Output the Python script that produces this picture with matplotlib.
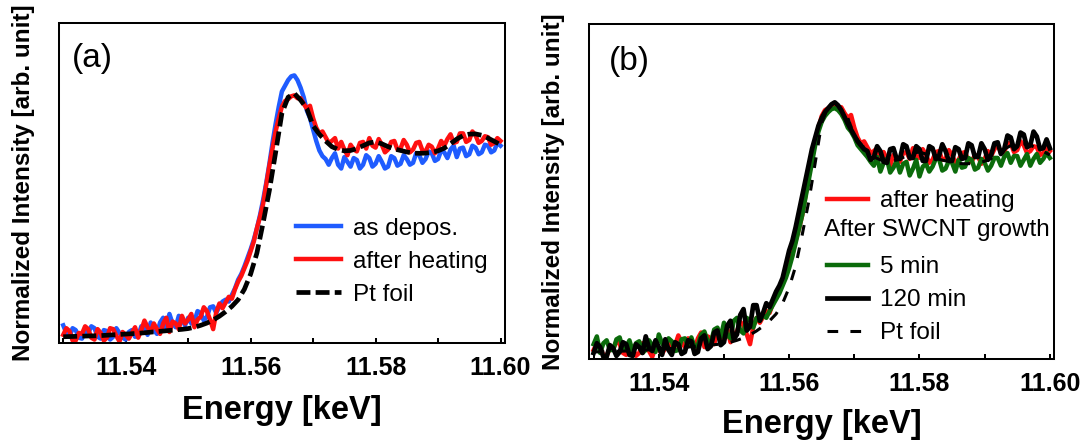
import numpy as np
import matplotlib.pyplot as plt
from matplotlib.ticker import FormatStrFormatter

plt.rcParams['font.family'] = ['Liberation Sans', 'DejaVu Sans']

# energy grids [keV]: 0.5 eV steps for the measured spectra, 1 eV for the Pt foil
energy_fine = np.round(11.530 + 0.0005 * np.arange(141), 4)
energy_ref = np.round(11.530 + 0.001 * np.arange(71), 3)

as_depos = [
    0.060, 0.020, 0.000, 0.045, 0.035, -0.005, -0.010, 0.030, 0.020, 0.055,
    0.045, 0.000, -0.010, 0.035, 0.030, -0.015, 0.000, 0.045, 0.020, -0.005,
    -0.015, 0.025, 0.035, 0.000, 0.005, 0.055, 0.050, 0.010, 0.075, 0.035,
    0.015, 0.075, 0.100, 0.045, 0.120, 0.070, 0.050, 0.110, 0.090, 0.060,
    0.100, 0.070, 0.080, 0.135, 0.125, 0.085, 0.105, 0.155, 0.160, 0.125,
    0.160, 0.185, 0.195, 0.185, 0.220, 0.255, 0.300, 0.330, 0.370, 0.415,
    0.460, 0.510, 0.570, 0.640, 0.720, 0.810, 0.910, 1.020, 1.120, 1.210,
    1.290, 1.320, 1.350, 1.370, 1.375, 1.350, 1.310, 1.260, 1.190, 1.150,
    1.090, 1.030, 0.980, 0.950, 0.935, 0.905, 0.940, 0.965, 0.905, 0.885,
    0.945, 0.920, 0.895, 0.940, 0.930, 0.885, 0.905, 0.955, 0.940, 0.895,
    0.910, 0.950, 0.920, 0.885, 0.895, 0.950, 0.940, 0.900, 0.910, 0.955,
    0.935, 0.905, 0.915, 0.965, 0.955, 0.915, 0.935, 0.975, 0.965, 0.925,
    0.935, 0.980, 0.970, 0.940, 0.985, 1.005, 0.945, 0.990, 0.995, 0.950,
    0.960, 1.005, 0.995, 0.960, 0.970, 1.010, 1.005, 0.970, 0.980, 1.020,
    1.005,
]

after_heating = [
    0.010, 0.045, 0.030, -0.020, -0.020, 0.020, 0.015, 0.055, 0.040, -0.005,
    -0.015, 0.040, 0.020, -0.020, -0.005, 0.045, 0.040, 0.005, -0.025, 0.025,
    0.010, -0.010, 0.020, 0.050, -0.005, 0.035, 0.085, 0.050, 0.025, 0.070,
    0.040, 0.015, 0.070, 0.100, 0.025, 0.080, 0.070, 0.040, 0.110, 0.070,
    0.090, 0.120, 0.050, 0.090, 0.105, 0.155, 0.135, 0.090, 0.040, 0.130,
    0.175, 0.150, 0.180, 0.210, 0.200, 0.250, 0.290, 0.320, 0.360, 0.400,
    0.450, 0.500, 0.570, 0.630, 0.700, 0.800, 0.900, 0.990, 1.080, 1.150,
    1.210, 1.240, 1.250, 1.265, 1.270, 1.255, 1.255, 1.225, 1.200, 1.215,
    1.150, 1.100, 1.070, 1.080, 1.050, 1.020, 1.030, 1.045, 0.990, 1.025,
    0.985, 0.955, 1.010, 0.985, 0.975, 1.020, 1.025, 0.990, 1.045, 1.005,
    0.995, 1.040, 1.010, 0.970, 0.985, 1.025, 1.030, 0.985, 0.990, 1.035,
    1.010, 0.970, 0.985, 1.020, 1.025, 0.980, 0.975, 1.010, 1.000, 0.965,
    0.990, 1.030, 1.005, 1.040, 1.065, 1.020, 1.025, 1.070, 1.070, 1.025,
    1.035, 1.080, 1.060, 1.020, 1.030, 1.055, 1.050, 1.010, 1.020, 1.045,
    1.030,
]

pt_foil = [
    0.000, 0.001, 0.002, 0.003, 0.004, 0.005, 0.006, 0.008, 0.010, 0.012,
    0.014, 0.016, 0.018, 0.021, 0.024, 0.027, 0.030, 0.033, 0.036, 0.039,
    0.043, 0.050, 0.060, 0.072, 0.088, 0.108, 0.132, 0.160, 0.195, 0.250,
    0.330, 0.440, 0.600, 0.770, 0.970, 1.175, 1.260, 1.280, 1.245, 1.200,
    1.110, 1.065, 1.030, 1.000, 0.985, 0.978, 0.980, 0.990, 1.005, 1.020,
    1.025, 1.015, 1.000, 0.988, 0.980, 0.972, 0.966, 0.965, 0.966, 0.970,
    0.978, 0.992, 1.015, 1.040, 1.058, 1.066, 1.067, 1.060, 1.045, 1.028,
    1.010,
]

growth_5min = [
    0.040, 0.080, -0.005, 0.045, 0.060, 0.010, 0.010, 0.065, 0.075, 0.015,
    0.025, 0.060, 0.000, 0.045, 0.055, -0.005, 0.010, 0.060, 0.035, 0.000,
    0.090, 0.045, 0.020, 0.070, 0.055, 0.005, 0.010, 0.065, 0.070, 0.030,
    0.075, 0.025, 0.035, 0.090, 0.105, 0.055, 0.050, 0.115, 0.125, 0.075,
    0.150, 0.085, 0.070, 0.160, 0.175, 0.110, 0.095, 0.175, 0.160, 0.125,
    0.175, 0.160, 0.190, 0.175, 0.210, 0.240, 0.270, 0.300, 0.340, 0.380,
    0.430, 0.490, 0.560, 0.630, 0.700, 0.790, 0.880, 0.970, 1.060, 1.130,
    1.180, 1.210, 1.230, 1.245, 1.250, 1.240, 1.220, 1.190, 1.150, 1.130,
    1.100, 1.060, 1.040, 1.020, 1.000, 0.975, 0.955, 1.000, 0.925, 0.970,
    0.990, 0.920, 0.945, 0.980, 0.920, 0.965, 0.975, 0.905, 0.940, 0.985,
    0.900, 0.950, 0.965, 0.925, 0.950, 0.990, 0.990, 0.930, 0.940, 0.980,
    0.970, 0.925, 0.985, 0.945, 0.950, 0.995, 0.985, 0.935, 0.945, 0.990,
    0.970, 0.930, 0.955, 0.995, 0.995, 0.955, 1.000, 1.020, 0.970, 1.005,
    1.005, 0.955, 0.985, 1.015, 0.955, 0.990, 1.015, 0.970, 0.990, 1.020,
    0.995,
]

growth_120min = [
    -0.005, 0.045, 0.025, -0.025, -0.025, 0.035, 0.020, -0.020, 0.000, 0.050,
    0.040, -0.015, -0.020, 0.040, 0.025, -0.005, 0.080, 0.020, 0.005, 0.060,
    0.025, -0.015, 0.065, 0.010, -0.015, 0.050, 0.040, -0.010, 0.000, 0.060,
    0.055, -0.010, 0.000, 0.070, 0.085, 0.015, 0.030, 0.100, 0.110, 0.035,
    0.050, 0.135, 0.160, 0.065, 0.090, 0.190, 0.220, 0.110, 0.130, 0.240,
    0.240, 0.160, 0.200, 0.250, 0.230, 0.270, 0.310, 0.340, 0.380, 0.450,
    0.520, 0.570, 0.640, 0.720, 0.800, 0.880, 0.960, 1.040, 1.100, 1.160,
    1.200, 1.230, 1.250, 1.270, 1.280, 1.265, 1.240, 1.205, 1.170, 1.140,
    1.110, 1.080, 1.060, 1.040, 1.030, 0.985, 1.000, 1.055, 1.030, 0.975,
    0.970, 1.040, 1.045, 0.990, 0.990, 1.065, 1.055, 0.995, 0.995, 1.055,
    1.040, 0.980, 0.980, 1.055, 1.045, 0.990, 1.005, 1.065, 1.030, 0.980,
    0.980, 1.050, 1.040, 0.990, 0.995, 1.070, 1.060, 1.000, 1.000, 1.070,
    1.040, 0.985, 1.010, 1.070, 1.075, 1.015, 1.040, 1.110, 1.100, 1.040,
    1.055, 1.125, 1.115, 1.050, 1.060, 1.130, 1.105, 1.040, 1.045, 1.090,
    1.045,
]

tick_major = [11.54, 11.56, 11.58, 11.60]
tick_minor = [11.53, 11.55, 11.57, 11.59]

fig = plt.figure(figsize=(10.86, 4.43), dpi=100)
ax_a = fig.add_axes([0.0542, 0.2257, 0.4107, 0.7217])
ax_b = fig.add_axes([0.5424, 0.1896, 0.4285, 0.7555])


def style(ax, ylim, xpad):
    ax.set_xlim(11.5293, 11.6007)
    ax.set_ylim(*ylim)
    ax.set_xticks(tick_major)
    ax.set_xticks(tick_minor, minor=True)
    ax.xaxis.set_major_formatter(FormatStrFormatter('%.2f'))
    ax.set_yticks([])
    ax.tick_params(axis='x', which='both', direction='in', length=3.6, width=1.45)
    ax.tick_params(axis='x', which='major', labelsize=18, pad=9.0)
    for lbl in ax.get_xticklabels():
        lbl.set_fontweight('bold')
    for s in ax.spines.values():
        s.set_linewidth(1.45)
    ax.set_xlabel('Energy [keV]', fontsize=23.5, fontweight='bold', labelpad=xpad)
    ax.set_ylabel('Normalized Intensity [arb. unit]', fontsize=17.5,
                  fontweight='bold', labelpad=17.5)


# (a)
ax_a.plot(energy_fine, as_depos, color='#1f5cff', lw=3.2, label='as depos.')
ax_a.plot(energy_fine, after_heating, color='#ff1010', lw=3.2, label='after heating')
ax_a.plot(energy_ref, pt_foil, color='black', lw=3.4, dashes=(2.95, 1.1), label='Pt foil')
style(ax_a, (-0.033, 1.649), 11.0)
ax_a.text(0.029, 0.891, '(a)', transform=ax_a.transAxes, fontsize=24,
          ha='left', va='center')
ax_a.legend(loc='upper left', bbox_to_anchor=(0.532, 0.392), frameon=False,
            fontsize=17.5, handlelength=1.85, handletextpad=0.5,
            labelspacing=0.45, borderpad=0, borderaxespad=0)

# (b)
l_red, = ax_b.plot(energy_fine, after_heating, color='#ff1010', lw=3.2)
l_green, = ax_b.plot(energy_fine, growth_5min, color='#0b6b0b', lw=3.2)
l_black, = ax_b.plot(energy_fine, growth_120min, color='black', lw=3.4)
l_pt, = ax_b.plot(energy_ref, pt_foil, color='black', lw=2.2, dashes=(3.5, 4))
l_blank, = ax_b.plot([], [], color='none')
style(ax_b, (-0.036, 1.68), 9.5)
ax_b.text(0.042, 0.89, '(b)', transform=ax_b.transAxes, fontsize=24,
          ha='left', va='center')
ax_b.legend([l_red, l_blank, l_green, l_black, l_pt],
            ['after heating', ' ', '5 min', '120 min', 'Pt foil'],
            loc='upper left', bbox_to_anchor=(0.511, 0.504), frameon=False,
            fontsize=17.5, handlelength=1.7, handletextpad=0.5,
            labelspacing=0.45, borderpad=0, borderaxespad=0)
ax_b.text(0.504, 0.385, 'After SWCNT growth', transform=ax_b.transAxes,
          fontsize=17.5, ha='left', va='center')

fig.savefig('out.png', dpi=100)
